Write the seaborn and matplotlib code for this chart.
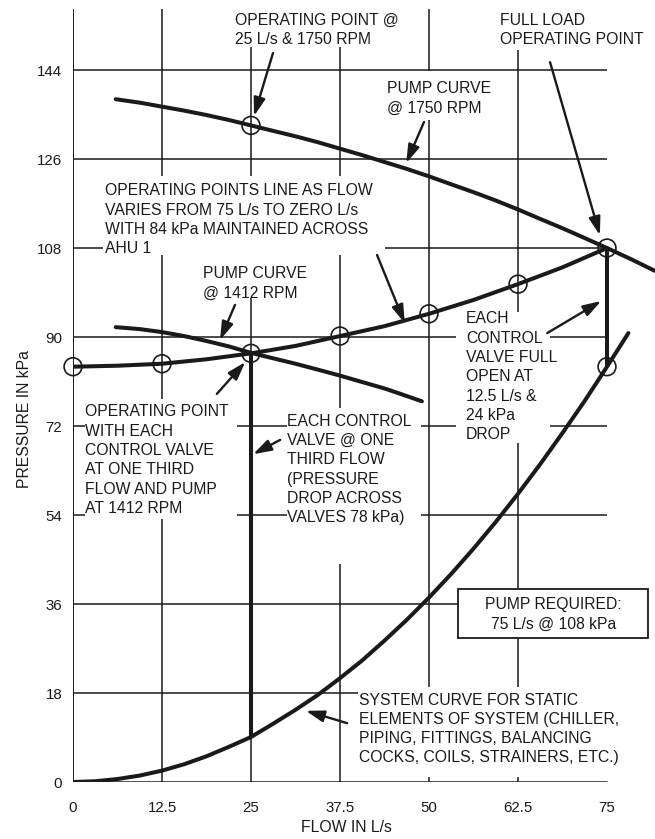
import matplotlib
matplotlib.use("Agg")
import matplotlib.pyplot as plt
from matplotlib.patches import Rectangle
import seaborn as sns

# ---------------- data ----------------
x_ticks = [0, 12.5, 25, 37.5, 50, 62.5, 75]
x_tick_labels = ["0", "12.5", "25", "37.5", "50", "62.5", "75"]
y_ticks = [0, 18, 36, 54, 72, 90, 108, 126, 144]
y_tick_labels = ["0", "18", "36", "54", "72", "90", "108", "126", "144"]

pump1750_flow = [6, 9.4, 12.5, 15.6, 18.75, 21.9, 25, 28.1, 31.25, 34.4, 37.5, 40.6,
                 43.75, 46.9, 50, 53.1, 56.25, 59.4, 62.5, 65.6, 68.75, 71.9, 75, 78.3, 81.7]
pump1750_pres = [138.1, 137.4, 136.6, 135.8, 134.9, 133.9, 132.8, 131.7, 130.6, 129.4,
                 128.1, 126.8, 125.4, 124.0, 122.5, 120.9, 119.3, 117.6, 115.8, 113.9,
                 112.0, 110.0, 108.0, 105.8, 103.4]

pump1412_flow = [6, 9.4, 12.5, 15.6, 18.75, 21.9, 25, 28.1, 31.25, 34.4, 37.5, 40.6,
                 43.75, 46.4, 49]
pump1412_pres = [92.0, 91.6, 91.0, 90.2, 89.2, 88.1, 86.8, 85.7, 84.6, 83.4, 82.2, 80.9,
                 79.6, 78.3, 77.0]

oper_flow = [0, 6.25, 12.5, 18.75, 25, 31.25, 37.5, 43.75, 50, 56.25, 62.5, 68.75, 75]
oper_pres = [84.0, 84.2, 84.6, 85.5, 86.7, 88.2, 90.2, 92.2, 94.7, 97.5, 100.7, 104.1, 108.0]

system_flow = [0, 3.125, 6.25, 9.375, 12.5, 15.625, 18.75, 21.875, 25, 28.125, 31.25,
               34.375, 37.5, 40.625, 43.75, 46.875, 50, 53.125, 56.25, 59.375, 62.5,
               65.625, 68.75, 71.875, 75, 78]
system_pres = [0, 0.15, 0.6, 1.3, 2.3, 3.6, 5.2, 7.1, 9.1, 11.8, 14.6, 17.6, 21.0, 24.6,
               28.6, 32.8, 37.3, 42.1, 47.2, 52.6, 58.3, 64.3, 70.6, 77.1, 84.0, 90.8]

circle_flow = [25, 0, 12.5, 25, 37.5, 50, 62.5, 75, 75]
circle_pres = [132.8, 84.0, 84.6, 86.7, 90.2, 94.7, 100.7, 108.0, 84.0]

drop_flow = [25, 75]
drop_top = [86.7, 108.0]
drop_bottom = [9.1, 84.0]

INK = "#1a1a1a"
FS = 11.3
LS = 1.36

sns.set_theme(style="white")
plt.rcParams["font.family"] = ["Liberation Sans", "DejaVu Sans"]

fig = plt.figure(figsize=(6.55, 8.39), dpi=100)
ax = fig.add_axes([73 / 655, 57 / 839, 582 / 655, 782 / 839])
ax.set_xlim(0, 81.74)
ax.set_ylim(0, 158.17)
for s in ax.spines.values():
    s.set_visible(False)

# grid and axis lines
ax.vlines(x_ticks[1:-1], 0, 156.3, color=INK, lw=1.1, zorder=1)
ax.vlines([0], 0, 156.3, color=INK, lw=1.4, zorder=1)
ax.hlines(y_ticks[1:], 0, 75, color=INK, lw=1.1, zorder=1)
ax.hlines([0], 0, 75, color=INK, lw=1.8, zorder=1)

# white label areas that interrupt the grid
blank_boxes = [
    (22.05, 148.7, 47.3, 158.2),
    (59.3, 148.1, 81.7, 158.2),
    (43.5, 133.9, 59.3, 143.8),
    (4.2, 106.6, 43.8, 122.6),
    (17.8, 97.9, 33.3, 106.6),
    (1.7, 53.2, 23.0, 77.5),
    (30.1, 44.1, 48.9, 75.6),
    (53.8, 68.6, 67.0, 95.1),
    (40.0, 1.0, 78.2, 19.2),
]
for x0, y0, x1, y1 in blank_boxes:
    ax.add_patch(Rectangle((x0, y0), x1 - x0, y1 - y0, facecolor="white",
                           edgecolor="none", zorder=2))

# boxed note
ax.add_patch(Rectangle((54.07, 29.13), 26.69, 9.91, facecolor="white",
                       edgecolor=INK, lw=1.3, zorder=2.5))
ax.text(67.45, 33.9, "PUMP REQUIRED:\n75 L/s @ 108 kPa", ha="center", va="center",
        multialignment="center", fontsize=FS, linespacing=LS, color=INK, zorder=3)

# curves
for fx, fy in [(pump1750_flow, pump1750_pres), (pump1412_flow, pump1412_pres),
               (oper_flow, oper_pres), (system_flow, system_pres)]:
    sns.lineplot(x=fx, y=fy, ax=ax, color=INK, lw=2.9, sort=False,
                 estimator=None, zorder=4)
ax.vlines(drop_flow, drop_bottom, drop_top, color=INK, lw=2.9, zorder=4)

sns.scatterplot(x=circle_flow, y=circle_pres, ax=ax, s=165, marker="o",
                edgecolor=INK, linewidth=1.2, zorder=6, clip_on=False)
ax.collections[-1].set_facecolor("none")

# annotations
texts = [
    (22.75, 155.6, "OPERATING POINT @\n25 L/s & 1750 RPM"),
    (59.97, 155.6, "FULL LOAD\nOPERATING POINT"),
    (44.1, 141.7, "PUMP CURVE\n@ 1750 RPM"),
    (4.49, 121.1, "OPERATING POINTS LINE AS FLOW\nVARIES FROM 75 L/s TO ZERO L/s\n"
                  "WITH 84 kPa MAINTAINED ACROSS\nAHU 1"),
    (18.26, 104.3, "PUMP CURVE\n@ 1412 RPM"),
    (1.69, 76.4, "OPERATING POINT\nWITH EACH\nCONTROL VALVE\nAT ONE THIRD\n"
                 "FLOW AND PUMP\nAT 1412 RPM"),
    (30.06, 74.5, "EACH CONTROL\nVALVE @ ONE\nTHIRD FLOW\n(PRESSURE\n"
                  "DROP ACROSS\nVALVES 78 kPa)"),
    (55.2, 95.2, "EACH\nCONTROL\nVALVE FULL\nOPEN AT\n12.5 L/s &\n24 kPa\nDROP"),
    (40.17, 18.1, "SYSTEM CURVE FOR STATIC\nELEMENTS OF SYSTEM (CHILLER,\n"
                  "PIPING, FITTINGS, BALANCING\nCOCKS, COILS, STRAINERS, ETC.)"),
]
for tx, ty, s in texts:
    ax.text(tx, ty, s, ha="left", va="top", fontsize=FS, linespacing=LS,
            color=INK, zorder=3)

arrows = [
    ((28.09, 147.45), (25.42, 134.7)),
    ((67.0, 145.6), (74.0, 110.6)),
    ((49.3, 133.5), (46.8, 125.2)),
    ((42.7, 106.6), (46.6, 92.8)),
    ((22.75, 96.5), (20.65, 89.4)),
    ((20.2, 78.5), (24.2, 84.95)),
    ((29.1, 69.2), (25.3, 66.3)),
    ((66.6, 90.8), (74.2, 97.3)),
    ((38.5, 11.9), (32.7, 14.4)),
]
for start, tip in arrows:
    ax.annotate("", xy=tip, xytext=start, zorder=5,
                arrowprops=dict(arrowstyle="-|>,head_length=1.1,head_width=0.35",
                                color=INK, lw=1.7, shrinkA=0, shrinkB=0,
                                mutation_scale=10))

# ticks and labels
ax.set_xticks(x_ticks, x_tick_labels)
ax.set_yticks(y_ticks, y_tick_labels)
ax.tick_params(axis="x", length=0, pad=14, labelsize=10.8, labelcolor=INK)
ax.tick_params(axis="y", length=0, pad=7.9, labelsize=10.8, labelcolor=INK)
ax.set_xlabel("FLOW IN L/s", fontsize=FS, color=INK)
ax.set_ylabel("PRESSURE IN kPa", fontsize=FS, color=INK)
ax.xaxis.set_label_coords(0.469, -0.0486)
ax.yaxis.set_label_coords(-0.0706, 0.464)

fig.savefig("out.png", dpi=100)
